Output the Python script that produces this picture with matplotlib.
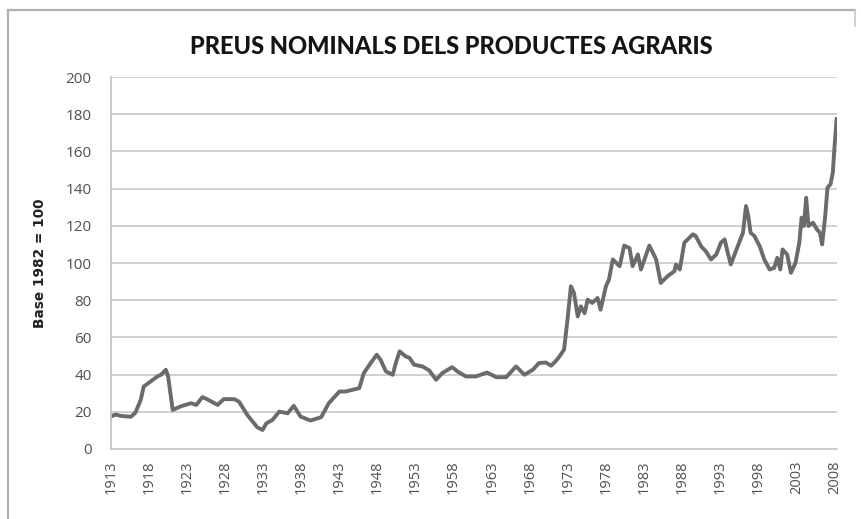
import matplotlib
matplotlib.use('Agg')
import matplotlib.pyplot as plt
from matplotlib.lines import Line2D

# dades llegides del grafic (any, index base 1982 = 100)
anys = [1913.0, 1913.6, 1914.3, 1915.0, 1915.6, 1916.2, 1916.9, 1917.3, 1918.2, 1919.1,
        1919.6, 1920.2, 1920.5, 1921.1, 1922.2, 1923.5, 1924.2, 1925.0, 1925.6, 1927.0,
        1927.8, 1929.2, 1929.8, 1930.9, 1932.2, 1932.9, 1933.4, 1934.2, 1935.1, 1936.2,
        1937.0, 1937.9, 1939.2, 1940.6, 1941.6, 1943.0, 1943.8, 1945.6, 1946.2, 1947.1,
        1947.9, 1948.4, 1949.1, 1950.0, 1950.4, 1950.9, 1951.7, 1952.2, 1952.8, 1953.9,
        1954.8, 1955.7, 1956.5, 1957.8, 1958.5, 1959.6, 1960.9, 1962.4, 1963.6, 1964.9,
        1966.2, 1967.3, 1968.4, 1969.2, 1970.1, 1970.8, 1971.4, 1971.9, 1972.5, 1973.0,
        1973.4, 1973.8, 1974.3, 1974.7, 1975.2, 1975.6, 1976.2, 1976.9, 1977.3, 1978.0,
        1978.4, 1978.9, 1979.8, 1980.4, 1981.1, 1981.5, 1982.2, 1982.6, 1983.7, 1984.6,
        1985.2, 1986.1, 1987.0, 1987.2, 1987.7, 1988.3, 1989.4, 1989.8, 1990.5, 1991.1,
        1991.8, 1992.5, 1993.1, 1993.6, 1994.0, 1994.4, 1994.9, 1996.0, 1996.4, 1996.7,
        1997.0, 1997.5, 1998.2, 1998.8, 1999.5, 2000.1, 2000.5, 2000.9, 2001.2, 2001.8,
        2002.3, 2002.9, 2003.4, 2003.7, 2004.0, 2004.3, 2004.6, 2005.2, 2005.7, 2006.1,
        2006.4, 2006.8, 2007.1, 2007.5, 2007.8, 2008.0, 2008.1, 2008.3]
preus = [17.5, 18.5, 17.8, 17.5, 17.3, 19.5, 26.4, 33.6, 36.3, 39.0,
         40.0, 42.6, 39.0, 21.0, 23.0, 24.6, 23.7, 27.9, 26.8, 23.7,
         26.8, 26.8, 25.5, 18.3, 11.7, 10.2, 13.8, 15.6, 20.1, 19.2,
         23.2, 17.4, 15.3, 17.1, 24.6, 30.9, 30.9, 32.7, 40.8, 46.2,
         50.7, 48.0, 41.7, 39.9, 46.2, 52.5, 49.8, 49.0, 45.3, 44.4,
         42.2, 37.2, 40.8, 44.0, 41.7, 39.0, 39.0, 41.1, 38.6, 38.6,
         44.4, 39.9, 42.6, 46.2, 46.5, 44.8, 47.2, 49.8, 53.4, 71.3,
         87.5, 83.9, 71.3, 76.7, 73.0, 80.3, 78.5, 81.2, 74.9, 87.5,
         91.1, 101.9, 98.3, 109.4, 108.0, 98.3, 104.6, 96.5, 109.4, 101.9,
         89.3, 92.9, 95.6, 99.2, 96.5, 110.9, 115.4, 114.5, 109.0, 106.4,
         101.9, 104.6, 110.9, 112.7, 105.5, 99.2, 104.6, 116.3, 130.6, 125.2,
         116.3, 114.5, 109.0, 101.9, 96.5, 97.4, 102.8, 96.5, 107.3, 104.6,
         94.7, 100.1, 110.9, 124.4, 119.9, 135.1, 119.9, 121.7, 118.1, 116.3,
         110.0, 125.2, 140.5, 142.4, 148.6, 161.2, 166.5, 177.4]

ticks_x = list(range(1913, 2009, 5))
ticks_y = list(range(0, 201, 20))

fig = plt.figure(figsize=(8.62, 5.19), dpi=100)
ax = fig.add_axes([0.1288, 0.1349, 0.8422, 0.7167])

ax.plot(anys, preus, color='#6b6b6b', lw=2.8, solid_joinstyle='round')

ax.set_xlim(1913, 2008.35)
ax.set_ylim(0, 200)
ax.set_yticks(ticks_y)
ax.set_xticks(ticks_x)
ax.set_xticklabels([str(t) for t in ticks_x], rotation=90, fontsize=10.5,
                   color='#505050', family='Open Sans')
ax.set_yticklabels([str(t) for t in ticks_y], fontsize=11, color='#505050',
                   family='Open Sans')
ax.tick_params(length=0, pad=14)
ax.tick_params(axis='x', pad=8)
ax.grid(axis='y', color='#c8c8c8', lw=1.2)
ax.set_axisbelow(True)
for s in ['top', 'right']:
    ax.spines[s].set_visible(False)
ax.spines['left'].set_color('#c0c0c0')
ax.spines['bottom'].set_color('#c8c8c8')
ax.spines['left'].set_linewidth(1.2)
ax.spines['bottom'].set_linewidth(1.2)

ax.set_ylabel('Base 1982 = 100', fontsize=9.8, fontweight='bold',
              color='#202020', family='DejaVu Sans', labelpad=13)

fig.text(0.523, 0.911, 'PREUS NOMINALS DELS PRODUCTES AGRARIS', ha='center',
         va='center', fontsize=17, fontweight='black', color='#141414',
         family='Lato')

# marc del grafic
fig.add_artist(Line2D([0.009, 0.009], [0.0, 0.98], color='#b0b0b0', lw=1.6))
fig.add_artist(Line2D([0.009, 0.992], [0.98, 0.98], color='#b0b0b0', lw=1.6))
fig.add_artist(Line2D([0.992, 0.992], [0.95, 0.98], color='#c8c8c8', lw=1.2))

fig.savefig('out.png', dpi=100)
